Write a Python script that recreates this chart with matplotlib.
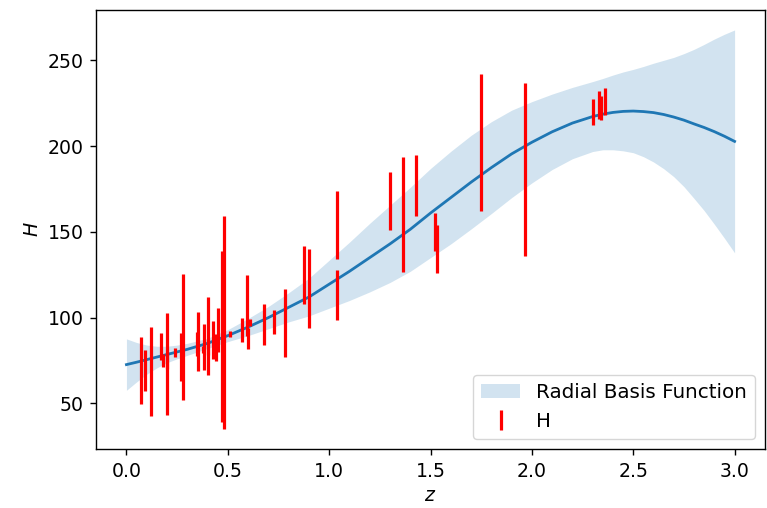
import numpy as np
import matplotlib
matplotlib.use("Agg")
import matplotlib.pyplot as plt

# H(z) measurements: redshift, value, 1-sigma error
z_obs = [0.07, 0.09, 0.12, 0.17, 0.1791, 0.1993, 0.2, 0.24, 0.27, 0.28,
         0.35, 0.352, 0.38, 0.3802, 0.4, 0.4004, 0.4247, 0.43, 0.44, 0.4497,
         0.47, 0.4783, 0.48, 0.51, 0.57, 0.5929, 0.6, 0.61, 0.68, 0.73,
         0.78, 0.8754, 0.9, 1.037, 1.04, 1.3, 1.363, 1.43, 1.52, 1.53,
         1.75, 1.965, 2.3, 2.33, 2.34, 2.36]
H_obs = [69.0, 69.0, 68.6, 83.0, 75.0, 75.0, 72.9, 79.69, 77.0, 88.8,
         84.4, 86.0, 81.5, 83.0, 95.0, 77.0, 87.1, 86.45, 82.6, 92.8,
         89.0, 80.9, 97.0, 90.4, 93.0, 107.0, 87.9, 97.3, 96.0, 97.3,
         97.0, 125.0, 117.0, 154.0, 113.0, 168.0, 160.0, 177.0, 150.0, 140.0,
         202.0, 186.5, 220.0, 224.0, 222.0, 226.0]
H_err = [19.6, 12.0, 26.2, 8.0, 4.0, 5.0, 29.6, 2.65, 14.0, 36.6,
         7.0, 17.0, 1.9, 13.5, 17.0, 10.2, 11.2, 3.68, 7.8, 12.9,
         49.6, 9.0, 62.0, 1.9, 7.0, 18.0, 6.1, 2.1, 12.0, 7.0,
         19.7, 17.0, 23.0, 20.0, 14.5, 17.0, 33.6, 18.0, 11.0, 14.0,
         40.0, 50.4, 7.5, 8.0, 7.0, 8.0]

# reconstructed mean and 1-sigma band
z_grid = [0.0, 0.05, 0.1, 0.15, 0.2, 0.25, 0.3, 0.4, 0.5, 0.6, 0.7, 0.8, 0.9,
          1.0, 1.1, 1.2, 1.3, 1.4, 1.5, 1.6, 1.7, 1.8, 1.9,
          2.0, 2.1, 2.2, 2.3, 2.35, 2.4, 2.45, 2.5, 2.55, 2.6, 2.65, 2.7,
          2.75, 2.8, 2.85, 2.9, 2.95, 3.0]
H_mean = [72.6, 74.0, 75.5, 77.0, 78.5, 80.0, 81.5, 85.0, 89.5, 94.5, 100.0,
          106.0, 112.0, 119.5, 127.0, 135.0, 143.0, 151.5, 161.0, 170.0,
          179.0, 187.5, 195.5, 202.3, 208.4, 213.5, 217.3, 218.7, 219.7,
          220.3, 220.5, 220.2, 219.6, 218.5, 217.0, 215.2, 213.0, 210.9,
          208.5, 205.8, 202.8]
H_sig = [15.0, 11.5, 8.5, 6.3, 4.8, 4.0, 3.5, 3.0, 3.5, 5.0, 6.5, 8.5, 11.0,
         14.0, 17.0, 20.0, 22.5, 24.5, 26.0, 27.0, 27.3, 26.8, 25.5,
         23.7, 22.0, 20.8, 20.4, 20.8, 21.8, 23.0, 24.3, 26.3, 28.8, 31.6,
         34.8, 38.8, 43.5, 48.5, 54.0, 59.5, 65.0]

plt.rcParams.update({
    "font.size": 13.6,
    "axes.linewidth": 1.0,
    "xtick.major.size": 4.5,
    "ytick.major.size": 4.5,
    "xtick.major.width": 1.0,
    "ytick.major.width": 1.0,
    "xtick.major.pad": 4.5,
    "ytick.major.pad": 4.5,
})

fig = plt.figure(figsize=(7.67, 5.08), dpi=100)
ax = fig.add_axes([0.1252, 0.1161, 0.8722, 0.8642])

zg = np.asarray(z_grid)
mu = np.asarray(H_mean)
sig = np.asarray(H_sig)

ax.fill_between(zg, mu - sig, mu + sig, color="C0", alpha=0.2, lw=0,
                label="Radial Basis Function")
ax.plot(zg, mu, color="C0", lw=2.0)
ax.errorbar(z_obs, H_obs, yerr=H_err, fmt="none", ecolor="red",
            elinewidth=2.3, label="H")

ax.set_xlabel("$z$")
ax.set_ylabel("$H$")
ax.legend(loc="lower right", fontsize=14.3)

fig.savefig("out.png", dpi=100)
